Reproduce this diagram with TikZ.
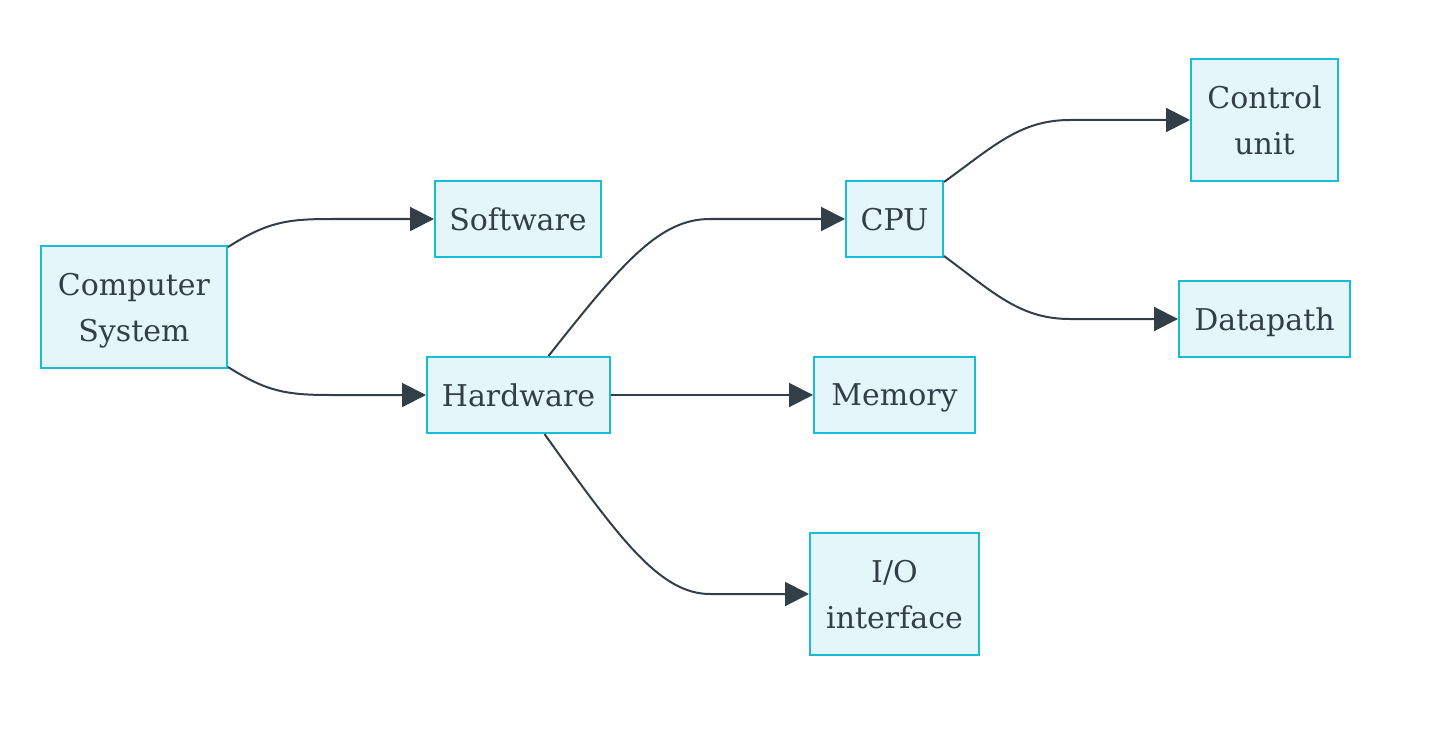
\documentclass[tikz,border=0pt]{standalone}
\usepackage{fontspec}
\setmainfont{DejaVu Serif}
\usetikzlibrary{arrows.meta}
\definecolor{frost}{RGB}{229,246,251}
\definecolor{teal}{RGB}{24,188,214}
\definecolor{slate}{RGB}{51,63,72}
\tikzset{
  >={Triangle[length=12pt,width=12pt]},
  box/.style={draw=teal,fill=frost,line width=1pt,text=slate,inner sep=0pt,
    text depth=0pt,align=center,font=\fontsize{15}{23}\selectfont},
  flow/.style={->,line width=1pt,draw=slate},
}
\begin{document}
\begin{tikzpicture}[x=0.5pt,y=-0.5pt]
  \useasboundingbox (0,0) rectangle (1438,743);
  % boxes
  \node[box,minimum width=93pt,minimum height=61pt] (cs) at (134,307) {Computer\\System};
  \node[box,minimum width=83pt,minimum height=38pt] (sw) at (518,219) {Software};
  \node[box,minimum width=91.5pt,minimum height=38pt] (hw) at (518.5,395) {Hardware};
  \node[box,minimum width=48.5pt,minimum height=38pt] (cpu) at (894.5,219) {CPU};
  \node[box,minimum width=80.5pt,minimum height=38pt] (mem) at (894.5,395) {Memory};
  \node[box,minimum width=84.5pt,minimum height=61pt] (io) at (894.5,594) {I/O\\interface};
  \node[box,minimum width=73.5pt,minimum height=61pt] (cu) at (1264.5,120) {Control\\unit};
  \node[box,minimum width=85.5pt,minimum height=38pt] (dp) at (1264.5,319) {Datapath};
  % links
  \draw[flow] ([yshift=-1pt]cs.north east) .. controls +(38,-24) and +(-45,0) .. (330,0 |- sw.west) -- (sw.west);
  \draw[flow] ([yshift=1pt]cs.south east) .. controls +(38,24) and +(-45,0) .. (330,0 |- hw.west) -- (hw.west);
  \draw[flow] ([xshift=15pt]hw.north) .. controls +(75,-95) and +(-50,0) .. (710,0 |- cpu.west) -- (cpu.west);
  \draw[flow] (hw) -- (mem);
  \draw[flow] ([xshift=13pt]hw.south) .. controls +(75,105) and +(-50,0) .. (710,0 |- io.west) -- (io.west);
  \draw[flow] ([yshift=-1pt]cpu.north east) .. controls +(50,-36) and +(-50,0) .. (1070,0 |- cu.west) -- (cu.west);
  \draw[flow] ([yshift=1pt]cpu.south east) .. controls +(50,37) and +(-50,0) .. (1070,0 |- dp.west) -- (dp.west);
\end{tikzpicture}
\end{document}
